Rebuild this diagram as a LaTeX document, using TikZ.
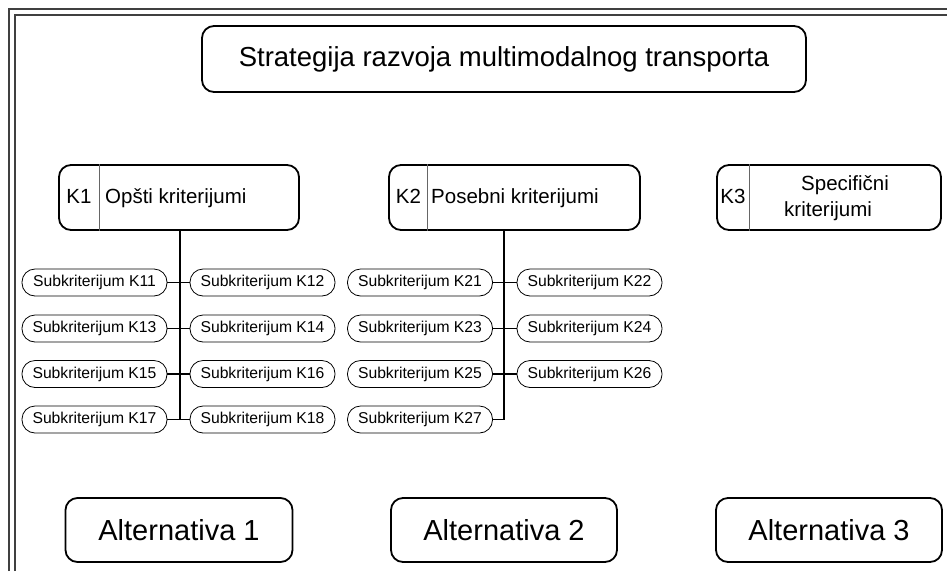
\documentclass[tikz,border=0pt]{standalone}
\usepackage{fontspec}
\setmainfont{Liberation Sans}
\begin{document}
\begin{tikzpicture}[x=1pt,y=-1pt,
  bigbox/.style={draw, line width=1.8pt, rounded corners=12pt, inner sep=0pt},
  pill/.style={draw, line width=0.8pt, rounded corners=13pt, minimum width=145pt, minimum height=27pt, inner sep=0pt, font=\fontsize{15.7}{18}\selectfont},
  ktext/.style={inner sep=0pt, text height=15pt, text depth=4pt, font=\fontsize{20.5}{24}\selectfont},
  alttext/.style={font=\fontsize{29}{34}\selectfont},
  conn/.style={line width=1.2pt},
  divider/.style={line width=0.8pt, draw=black!60},
  framel/.style={line width=2pt, draw=black!75}]
\useasboundingbox (0,0) rectangle (947,571);
% frame
\draw[framel] (8.5,571) -- (8.5,8.5) -- (947,8.5);
\draw[framel] (15,571) -- (15,15) -- (947,15);
% title
\node[bigbox, minimum width=604pt, minimum height=66pt, font=\fontsize{27.5}{33}\selectfont] (title) at (504,59) {Strategija razvoja multimodalnog transporta};
% criteria boxes
\node[bigbox, minimum width=240pt, minimum height=65pt] (k1) at (179,197.5) {};
\draw[divider] ([xshift=41pt]k1.north west) -- ([xshift=41pt]k1.south west);
\node[ktext] (k1id) at (79,197.5) {K1};
\node[ktext, anchor=west] (k1t) at (105,197.5) {Opšti kriterijumi};

\node[bigbox, minimum width=251pt, minimum height=65pt] (k2) at (514.5,197.5) {};
\draw[divider] ([xshift=39pt]k2.north west) -- ([xshift=39pt]k2.south west);
\node[ktext] (k2id) at (408.5,197.5) {K2};
\node[ktext, anchor=west] (k2t) at (431,197.5) {Posebni kriterijumi};

\node[bigbox, minimum width=224pt, minimum height=65pt] (k3) at (829,197.5) {};
\draw[divider] ([xshift=33pt]k3.north west) -- ([xshift=33pt]k3.south west);
\node[ktext] (k3id) at (733,197.5) {K3};
\node[ktext, anchor=west] (k3a) at (801,185) {Specifični};
\node[ktext, anchor=west] (k3b) at (784,211) {kriterijumi};
% subcriteria K1
\node[pill] (s11) at (94.5,282.5) {Subkriterijum K11};
\node[pill] (s12) at (262.5,282.5) {Subkriterijum K12};
\node[pill] (s13) at (94.5,328.5) {Subkriterijum K13};
\node[pill] (s14) at (262.5,328.5) {Subkriterijum K14};
\node[pill] (s15) at (94.5,374) {Subkriterijum K15};
\node[pill] (s16) at (262.5,374) {Subkriterijum K16};
\node[pill] (s17) at (94.5,419.5) {Subkriterijum K17};
\node[pill] (s18) at (262.5,419.5) {Subkriterijum K18};
% subcriteria K2
\node[pill] (s21) at (420,282.5) {Subkriterijum K21};
\node[pill] (s22) at (589.5,282.5) {Subkriterijum K22};
\node[pill] (s23) at (420,328.5) {Subkriterijum K23};
\node[pill] (s24) at (589.5,328.5) {Subkriterijum K24};
\node[pill] (s25) at (420,374) {Subkriterijum K25};
\node[pill] (s26) at (589.5,374) {Subkriterijum K26};
\node[pill] (s27) at (420,419.5) {Subkriterijum K27};
% connectors K1
\coordinate (k1b) at ([xshift=1pt]k1.south);
\draw[conn] (k1b) -- (k1b |- s17.east);
\draw[conn] (s11.east) -- (s12.west);
\draw[conn] (s13.east) -- (s14.west);
\draw[conn] (s15.east) -- (s16.west);
\draw[conn] (s17.east) -- (s18.west);
% connectors K2
\coordinate (k2b) at ([xshift=-10.5pt]k2.south);
\draw[conn] (k2b) -- (k2b |- s27.east);
\draw[conn] (s21.east) -- (s22.west);
\draw[conn] (s23.east) -- (s24.west);
\draw[conn] (s25.east) -- (s26.west);
\draw[conn] (s27.east) -- (s27.east -| k2b);
% alternatives
\node[bigbox, minimum width=227pt, minimum height=64pt, alttext] (a1) at (179,530) {Alternativa 1};
\node[bigbox, minimum width=226pt, minimum height=64pt, alttext] (a2) at (504,530) {Alternativa 2};
\node[bigbox, minimum width=226pt, minimum height=64pt, alttext] (a3) at (829,530) {Alternativa 3};
\end{tikzpicture}
\end{document}
